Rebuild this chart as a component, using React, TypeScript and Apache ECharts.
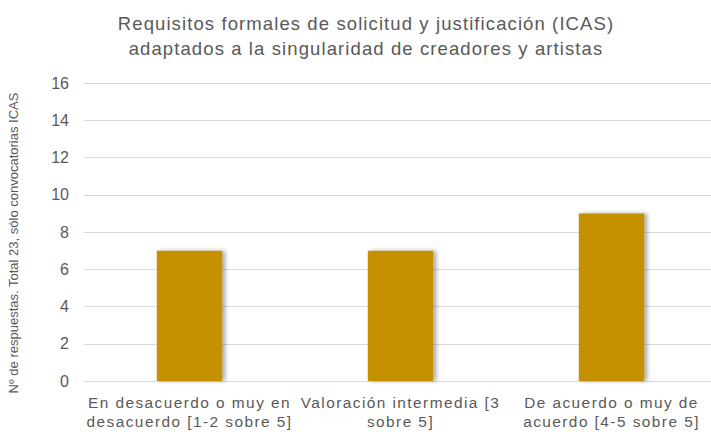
import React, { useEffect, useRef } from "react";
import * as echarts from "echarts";

const titleLines = [
  "Requisitos formales de solicitud y justificación (ICAS)",
  "adaptados a la singularidad de creadores y artistas",
];
const categories = [
  "En desacuerdo o muy en\ndesacuerdo [1-2 sobre 5]",
  "Valoración intermedia [3\nsobre 5]",
  "De acuerdo o muy de\nacuerdo [4-5 sobre 5]",
];
const values = [7, 7, 9];
const yAxisName = "Nº de respuestas. Total 23, sólo convocatorias ICAS";

const FONT = "Liberation Sans, Arial, sans-serif";

export default function App() {
  const ref = useRef<HTMLDivElement>(null);
  useEffect(() => {
    const chart = echarts.init(ref.current!, null, { renderer: "svg" });
    chart.setOption({
      animation: false,
      textStyle: { fontFamily: FONT },
      title: {
        text: titleLines.join("\n"),
        left: 361,
        textAlign: "center",
        top: 6,
        textStyle: {
          fontSize: 18.5,
          fontWeight: "normal",
          color: "#595959",
          lineHeight: 25,
          fontFamily: FONT,
        },
      },
      grid: {
        left: 84,
        right: -6,
        top: 83,
        bottom: 51,
        containLabel: false,
        outerBoundsMode: "none",
      },
      xAxis: {
        type: "category",
        data: categories,
        axisLine: { lineStyle: { color: "#d9d9d9" } },
        axisTick: { show: false },
        axisLabel: {
          color: "#595959",
          fontSize: 15.4,
          lineHeight: 19,
          margin: 12,
          interval: 0,
        },
      },
      yAxis: {
        type: "value",
        min: 0,
        max: 16,
        interval: 2,
        name: yAxisName,
        nameLocation: "middle",
        nameGap: 64,
        nameRotate: 90,
        nameTextStyle: { color: "#595959", fontSize: 13, padding: [0, 0, 0, -22] },
        axisLine: { show: false },
        axisTick: { show: false },
        axisLabel: { color: "#595959", fontSize: 16, margin: 15 },
        splitLine: { lineStyle: { color: "#d9d9d9" } },
      },
      series: [
        {
          type: "bar",
          data: values,
          barWidth: "31%",
          itemStyle: {
            color: "#C49000",
            shadowColor: "rgba(0,0,0,0.35)",
            shadowBlur: 4,
            shadowOffsetX: 3,
            shadowOffsetY: 0,
          },
        },
      ],
    });

    const titleSet = new Set(titleLines);
    const catSet = new Set(categories.flatMap((c) => c.split("\n")));
    const applySpacing = () => {
      const dom = chart.getDom();
      dom.querySelectorAll("text").forEach((t) => {
        const s = (t.textContent || "").trim();
        if (titleSet.has(s)) (t as SVGTextElement).style.letterSpacing = "1.1px";
        else if (catSet.has(s)) (t as SVGTextElement).style.letterSpacing = "1.45px";
      });
    };
    applySpacing();
    chart.on("finished", applySpacing);
    const timer = setTimeout(applySpacing, 50);
    return () => {
      clearTimeout(timer);
      chart.dispose();
    };
  }, []);
  return <div ref={ref} style={{ width: 711, height: 432, position: "absolute", left: 0, top: 0 }} />;
}
